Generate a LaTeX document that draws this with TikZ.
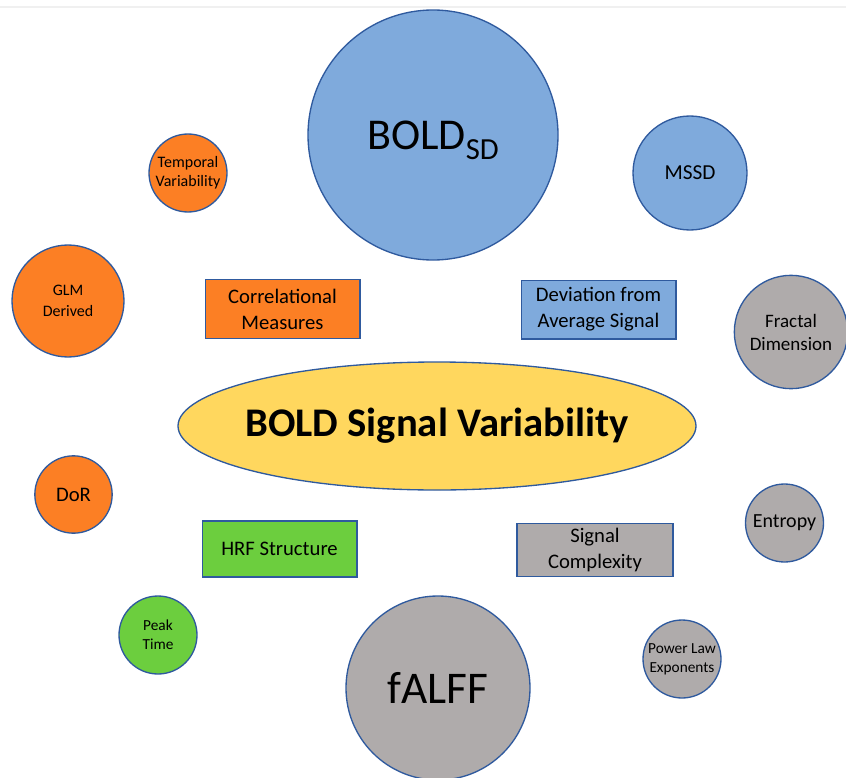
\documentclass[tikz,border=0pt]{standalone}
\usepackage{fontspec}
\setmainfont{Carlito}
\usetikzlibrary{shapes.geometric}

\definecolor{edgeblue}{HTML}{2F5A9E}
\definecolor{sdblue}{HTML}{7FAADC}
\definecolor{corrorange}{HTML}{FC7F24}
\definecolor{hrfgreen}{HTML}{6CCE3E}
\definecolor{cplxgray}{HTML}{AFABAB}
\definecolor{coreyellow}{HTML}{FFD75E}

\newcommand{\fs}[1]{\fontsize{#1}{1.25\dimexpr#1pt\relax}\selectfont}

\begin{document}
\begin{tikzpicture}[x=0.75pt, y=-0.75pt,
  bubble/.style={circle, draw=edgeblue, line width=1pt, inner sep=0pt, align=center},
  tag/.style={rectangle, draw=edgeblue, line width=1pt, inner sep=0pt, align=center,
    minimum width=116pt, minimum height=44pt, font=\fontsize{15.5}{19.5}\selectfont}]
\useasboundingbox (0,0) rectangle (846,778);
\draw[black!6, line width=1pt] (0,7) -- (846,7);

% centre
\node[ellipse, draw=edgeblue, line width=1pt, fill=coreyellow, minimum width=388.5pt,
  minimum height=96pt, inner sep=0pt, font=\fontsize{30.5}{36}\selectfont\bfseries] (core) at (437,426)
  {\makebox[0pt]{BOLD Signal Variability}};

% deviation from average signal
\node[bubble, fill=sdblue, minimum size=187.5pt, font=\fs{33}] (boldsd) at (433,135)
  {BOLD\raisebox{-8pt}[0pt][0pt]{\fontsize{23}{23}\selectfont SD}};
\node[bubble, fill=sdblue, minimum size=85.5pt, font=\fs{16}] (mssd) at (690,173) {MSSD};
\node[tag, fill=sdblue] (dev) at (598.5,309.5) {Deviation from\\Average Signal};

% correlational measures
\node[bubble, fill=corrorange, minimum size=58.5pt, font=\fontsize{12}{14}\selectfont] (temp) at (188,173) {Temporal\\Variability};
\node[bubble, fill=corrorange, minimum size=84pt, font=\fontsize{12}{16}\selectfont] (glm) at (68,301) {GLM\\Derived};
\node[bubble, fill=corrorange, minimum size=58pt, font=\fs{15.5}] (dor) at (73.5,494.5) {DoR};
\node[tag, fill=corrorange] (corr) at (282.5,309) {Correlational\\Measures};

% HRF structure
\node[tag, fill=hrfgreen, minimum height=42pt] (hrf) at (279.5,549) {HRF Structure};
\node[bubble, fill=hrfgreen, minimum size=58.5pt, font=\fontsize{11.5}{14.5}\selectfont] (peak) at (158,635) {Peak\\Time};

% signal complexity
\node[tag, fill=cplxgray, minimum width=117pt, minimum height=40pt, font=\fontsize{15.5}{20}\selectfont] (cplx) at (595,550) {Signal\\Complexity};
\node[bubble, fill=cplxgray, minimum size=85pt, font=\fontsize{14.25}{17.25}\selectfont] (fractal) at (791,332) {Fractal\\Dimension};
\node[bubble, fill=cplxgray, minimum size=58.5pt, font=\fs{15}] (entropy) at (784.5,523) {Entropy};
\node[bubble, fill=cplxgray, minimum size=58.5pt, font=\fontsize{11.5}{14}\selectfont] (power) at (682,659) {Power Law\\Exponents};
\node[bubble, fill=cplxgray, minimum size=138pt, font=\fs{34}] (falff) at (438,688) {fALFF};
\end{tikzpicture}
\end{document}
